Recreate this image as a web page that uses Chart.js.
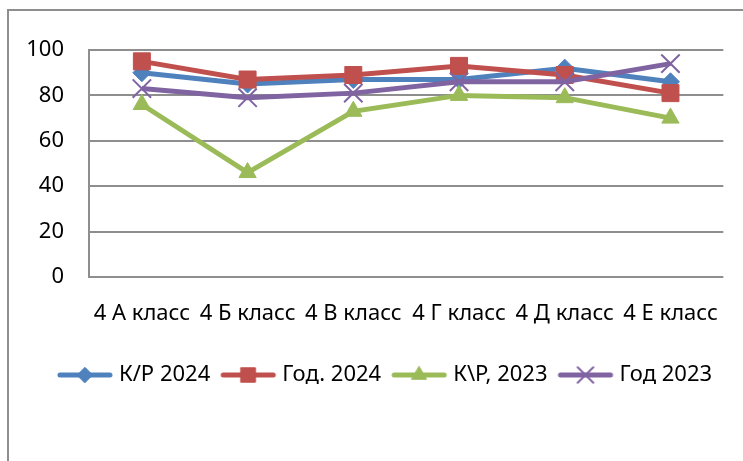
<!DOCTYPE html>
<html>
<head>
<meta charset="utf-8">
<script src="https://cdn.jsdelivr.net/npm/chart.js@4/dist/chart.umd.min.js"></script>
<style>
  html, body { margin: 0; padding: 0; background: #fff; overflow: hidden; }
  #wrap { position: relative; width: 743px; height: 461px; }
  #frame { position: absolute; left: 7px; top: 9px; width: 900px; height: 600px; border: 2px solid #8e8e8e; }
  canvas { position: absolute; left: 0; top: 0; }
</style>
</head>
<body>
<div id="wrap">
  <div id="frame"></div>
  <canvas id="c" width="743" height="461"></canvas>
</div>
<script>
const classes = ['4 А класс', '4 Б класс', '4 В класс', '4 Г класс', '4 Д класс', '4 Е класс'];
const kr2024 = [90, 85, 87, 87, 92, 86];
const god2024 = [95, 87, 89, 93, 89, 81];
const kr2023 = [76, 46, 73, 80, 79, 70];
const god2023 = [83, 79, 81, 86, 86, 94];
const yTicks = [0, 20, 40, 60, 80, 100];

const FONT = "'Noto Sans', sans-serif";

const series = [
    { label: 'К/Р 2024', data: kr2024, color: '#4f81bd', style: 'rectRot', radius: 9, order: 4 },
    { label: 'Год. 2024', data: god2024, color: '#c0504d', style: 'rect', radius: 12, order: 3 },
    { label: 'К\\Р, 2023', data: kr2023, color: '#9bbb59', style: 'triangle', radius: 10, order: 2 },
    { label: 'Год 2023', data: god2023, color: '#8064a2', style: 'crossRot', radius: 13, order: 1 }
];

// little line+marker icon for the legend (a bit wider than its legend box)
function legendIcon(s){
    const cv = document.createElement('canvas');
    cv.width = 58; cv.height = 22;
    const g = cv.getContext('2d');
    g.strokeStyle = s.color; g.lineWidth = 5; g.lineCap = 'round';
    g.beginPath(); g.moveTo(4, 11); g.lineTo(54, 11); g.stroke();
    g.fillStyle = s.color; g.lineWidth = s.style === 'crossRot' ? 2 : 1;
    Chart.helpers.drawPoint(g, { pointStyle: s.style, radius: s.radius * 0.85, borderWidth: g.lineWidth }, 29, 11);
    return cv;
}

const datasets = series.map(s => ({
    label: s.label,
    data: s.data,
    borderColor: s.color,
    backgroundColor: s.color,
    borderWidth: 5,
    tension: 0,
    pointStyle: s.style,
    pointRadius: s.radius,
    pointHoverRadius: s.radius,
    pointBorderColor: s.color,
    pointBackgroundColor: s.color,
    pointBorderWidth: s.style === 'crossRot' ? 2 : 1,
    order: s.order,
    icon: legendIcon(s)
}));

// legend row sits a little right of the canvas centre in the original
const shiftLegend = {
    id: 'shiftLegend',
    afterLayout(chart){
        if (!chart.legend) return;
        chart.legend.left += 23;
        chart.legend.right += 23;
    }
};

new Chart(document.getElementById('c'), {
    type: 'line',
    data: { labels: classes, datasets },
    plugins: [shiftLegend],
    options: {
        responsive: false,
        animation: false,
        layout: { padding: { left: 0, right: 15, top: 50, bottom: 65 } },
        scales: {
            x: {
                offset: true,
                grid: { display: false, drawTicks: false, offset: true },
                border: { display: false },
                ticks: { color: '#000', font: { family: FONT, size: 22 }, padding: 24, maxRotation: 0, autoSkip: false },
                afterFit: sc => { sc.height = 72; }
            },
            y: {
                min: 0, max: 100,
                afterBuildTicks: sc => { sc.ticks = yTicks.map(v => ({ value: v })); },
                grid: { color: '#8e8e8e', lineWidth: 2, drawTicks: false },
                border: { display: true, color: '#8e8e8e', width: 2 },
                ticks: { color: '#000', font: { family: FONT, size: 22 }, padding: 25 },
                afterFit: sc => { sc.width = 89; }
            }
        },
        plugins: {
            tooltip: { enabled: false },
            legend: {
                position: 'bottom',
                labels: {
                    color: '#000',
                    font: { family: FONT, size: 22 },
                    padding: 15,
                    usePointStyle: true,
                    pointStyleWidth: 46,
                    generateLabels: chart => chart.data.datasets.map((d, i) => ({
                        text: d.label,
                        pointStyle: d.icon,
                        fillStyle: d.borderColor,
                        strokeStyle: d.borderColor,
                        lineWidth: 0,
                        fontColor: '#000',
                        datasetIndex: i
                    }))
                }
            }
        }
    }
});
</script>
</body>
</html>
